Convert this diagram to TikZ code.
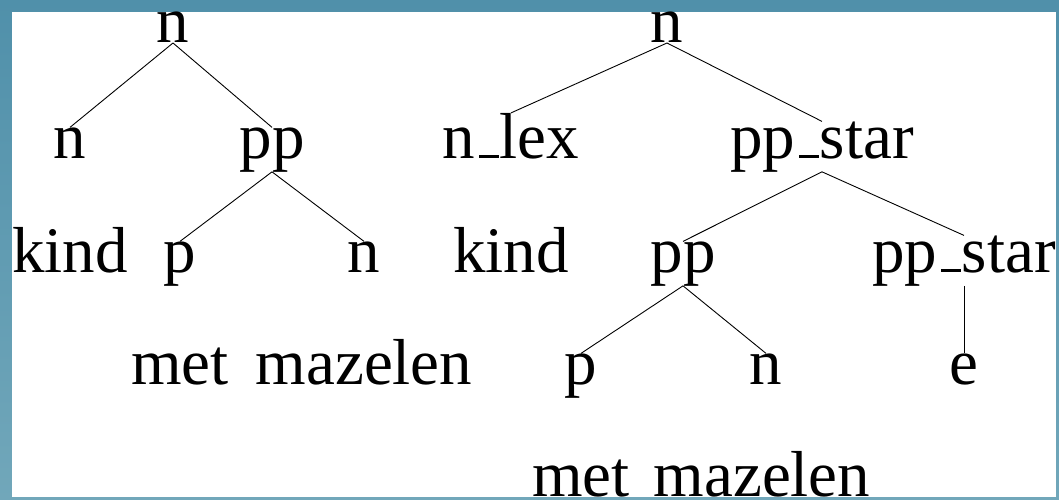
\documentclass[tikz,border=0pt]{standalone}
\usepackage{fontspec}
\setmainfont{Liberation Serif}
\newcommand{\us}{\kern.06em\rule{.3em}{.04em}\kern.02em}
\definecolor{bandtop}{RGB}{80,144,170}
\definecolor{bandbot}{RGB}{113,167,186}
\begin{document}
\begin{tikzpicture}[x=1pt,y=-1pt,
  lab/.style={inner sep=0pt,outer sep=0pt,anchor=base,font=\fontsize{65}{78}\selectfont},
  edge/.style={line width=0.9pt,black}]
\useasboundingbox (0,0) rectangle (1059,500);
\shade[top color=bandtop,bottom color=bandbot] (0,0) rectangle (1059,500);
\fill[white] (12,12) rectangle (1056,497);
% left tree
\node[lab] (nL0) at (173,43) {n};
\node[lab] (nL1) at (70,158) {n};
\node[lab] (ppL) at (272,158) {pp};
\node[lab] (kindL) at (70,272) {kind};
\node[lab] (pL) at (180,272) {p};
\node[lab] (nL2) at (364,272) {n};
\node[lab] (metL) at (180,384) {met};
\node[lab] (mazL) at (364,384) {mazelen};
\draw[edge] (nL0.south) -- (nL1.north);
\draw[edge] (nL0.south) -- (ppL.north);
\draw[edge] (ppL.south) -- (pL.north);
\draw[edge] (ppL.south) -- (nL2.north);
% right tree
\node[lab] (nR0) at (667,43) {n};
\node[lab] (nlex) at (511,158) {n\us lex};
\node[lab] (ps1) at (822,158) {pp\us star};
\node[lab] (kindR) at (511,272) {kind};
\node[lab] (ppR) at (683,272) {pp};
\node[lab] (ps2) at (964,272) {pp\us star};
\node[lab] (pR) at (581,384) {p};
\node[lab] (nR) at (766,384) {n};
\node[lab] (eR) at (964,384) {e};
\node[lab] (metR) at (581,496) {met};
\node[lab] (mazR) at (762,496) {mazelen};
\draw[edge] (nR0.south) -- (nlex.north);
\draw[edge] (nR0.south) -- (ps1.north);
\draw[edge] (ps1.south) -- (ppR.north);
\draw[edge] (ps1.south) -- (ps2.north);
\draw[edge] (ppR.south) -- (pR.north);
\draw[edge] (ppR.south) -- (nR.north);
\draw[edge] (ps2.south) -- (eR.north);
\end{tikzpicture}
\end{document}
